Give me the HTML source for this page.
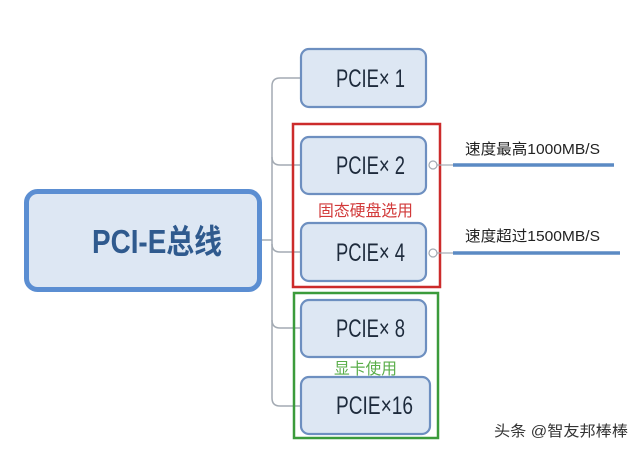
<!DOCTYPE html>
<html>
<head>
<meta charset="utf-8">
<style>
  html,body{margin:0;padding:0;background:#fff;}
  body{width:640px;height:450px;overflow:hidden;}
  svg{display:block;}
  text{font-family:"Liberation Sans","Noto Sans CJK SC",sans-serif;}
</style>
</head>
<body>
<svg width="640" height="450" viewBox="0 0 640 450" xmlns="http://www.w3.org/2000/svg">
  <rect x="0" y="0" width="640" height="450" fill="#ffffff"/>

  <!-- connectors -->
  <g fill="none" stroke="#a3aab3" stroke-width="1.5">
    <line x1="262" y1="240" x2="272" y2="240"/>
    <path d="M300 78 L280 78 Q272 78 272 86 L272 398 Q272 406 280 406 L300 406"/>
    <path d="M272 157 Q272 165 280 165 L300 165"/>
    <path d="M272 244 Q272 252 280 252 L300 252"/>
    <path d="M272 320 Q272 328 280 328 L300 328"/>
  </g>

  <!-- main box -->
  <rect x="26.5" y="191.5" width="233" height="98" rx="11" ry="11" fill="#dde7f3" stroke="#5b8ed2" stroke-width="5"/>
  <text x="92" y="253" font-size="33" font-weight="bold" fill="#2f5a8e" textLength="130" lengthAdjust="spacingAndGlyphs">PCI-E总线</text>

  <!-- child boxes -->
  <g fill="#dde7f3" stroke="#6d8fc0" stroke-width="2.2">
    <rect x="301" y="49" width="125" height="58" rx="8" ry="8"/>
    <rect x="301" y="137" width="125" height="57" rx="8" ry="8"/>
    <rect x="301" y="223" width="125" height="58" rx="8" ry="8"/>
    <rect x="301" y="300" width="125" height="57" rx="8" ry="8"/>
    <rect x="301" y="377" width="129" height="57" rx="8" ry="8"/>
  </g>
  <g font-size="25" fill="#1e2b3c">
    <text x="336" y="87" textLength="69" lengthAdjust="spacingAndGlyphs">PCIE× 1</text>
    <text x="336" y="174" textLength="69" lengthAdjust="spacingAndGlyphs">PCIE× 2</text>
    <text x="336" y="261" textLength="69" lengthAdjust="spacingAndGlyphs">PCIE× 4</text>
    <text x="336" y="337" textLength="69" lengthAdjust="spacingAndGlyphs">PCIE× 8</text>
    <text x="336" y="414" textLength="77" lengthAdjust="spacingAndGlyphs">PCIE×16</text>
  </g>

  <!-- group boxes -->
  <rect x="293" y="124" width="147" height="163" fill="none" stroke="#cc2b2b" stroke-width="2.5"/>
  <rect x="294" y="293" width="144" height="145" fill="none" stroke="#3b9b3b" stroke-width="2.5"/>
  <text x="318" y="216" font-size="16" fill="#d23a3a" textLength="95" lengthAdjust="spacingAndGlyphs">固态硬盘选用</text>
  <text x="334" y="374" font-size="16" fill="#5aae4a" textLength="63" lengthAdjust="spacingAndGlyphs">显卡使用</text>

  <!-- right side connectors -->
  <g fill="#ffffff" stroke="#a3aab3" stroke-width="1.2">
    <circle cx="433" cy="165" r="4"/>
    <circle cx="433" cy="253" r="4"/>
    <line x1="437" y1="165" x2="453" y2="165"/>
    <line x1="437" y1="253" x2="453" y2="253"/>
  </g>
  <g stroke="#5b8ac4" stroke-width="3.5">
    <line x1="453" y1="165" x2="614" y2="165"/>
    <line x1="453" y1="253" x2="620" y2="253"/>
  </g>
  <g font-size="15" fill="#222">
    <text x="465" y="154" textLength="135" lengthAdjust="spacingAndGlyphs">速度最高1000MB/S</text>
    <text x="465" y="241" textLength="135" lengthAdjust="spacingAndGlyphs">速度超过1500MB/S</text>
  </g>

  <!-- watermark -->
  <text x="494" y="436" font-size="15" fill="#333" textLength="134" lengthAdjust="spacingAndGlyphs">头条 @智友邦棒棒</text>
</svg>
</body>
</html>
